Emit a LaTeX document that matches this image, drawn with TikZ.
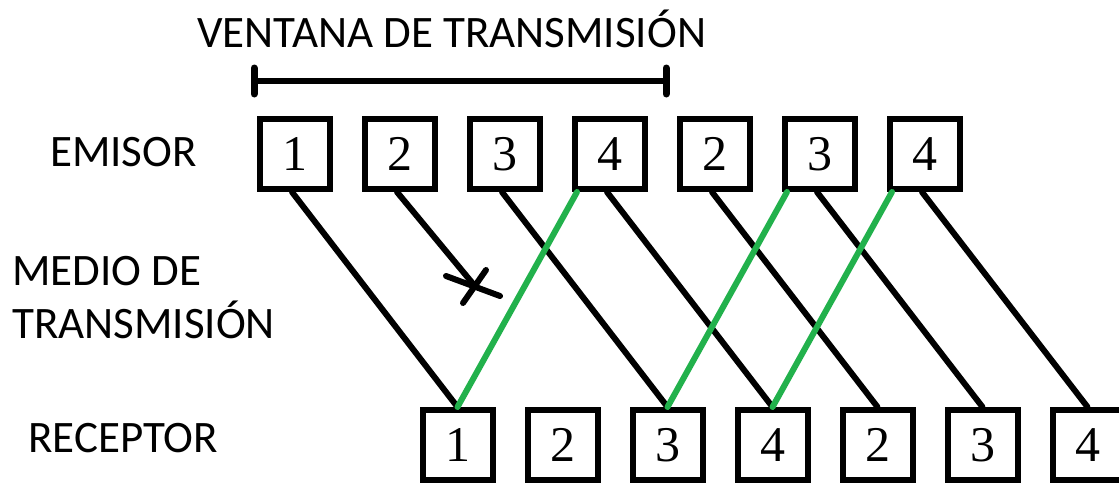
\documentclass[tikz,border=0pt]{standalone}
\usepackage{fontspec}
\setmainfont{Carlito}
\newfontfamily\numfont{Liberation Serif}
\definecolor{pgreen}{RGB}{34,177,76}
\begin{document}
\begin{tikzpicture}[x=1pt,y=-1pt,
  pkt/.style={draw=black, line width=6pt, minimum size=70pt, inner sep=0pt,
    font=\numfont\fontsize{50}{50}\selectfont},
  lbl/.style={anchor=base west, inner sep=0pt, font=\fontsize{45}{54}\selectfont},
  wire/.style={line width=6pt, line cap=round},
  ack/.style={wire, draw=pgreen}]
\clip (0,0) rectangle (1119,482);
\fill[white] (0,0) rectangle (1119,482);
% labels
\node[lbl] (ventana) at (197,47) {VENTANA DE TRANSMISIÓN};
\node[lbl] (emisor) at (50,166) {EMISOR};
\node[lbl] (medio1) at (12,285) {MEDIO DE};
\node[lbl] (medio2) at (12,338) {TRANSMISIÓN};
\node[lbl] (receptor) at (28,452) {RECEPTOR};
% window bar
\coordinate (wl) at (254,81);
\coordinate (wr) at (666,81);
\draw[line width=6pt] (wl) -- (wr);
\draw[line width=7pt, line cap=round] ([yshift=-13pt]wl) -- ([yshift=13pt]wl);
\draw[line width=7pt, line cap=round] ([yshift=-13pt]wr) -- ([yshift=13pt]wr);
% packets
\foreach \i/\n/\x in {1/1/295,2/2/400,3/3/505,4/4/610,5/2/715,6/3/820,7/4/925}
  \node[pkt] (e\i) at (\x,154) {\n};
\foreach \i/\n/\x in {1/1/457.5,2/2/562.5,3/3/667.5,4/4/772.5,5/2/877.5,6/3/982.5,7/4/1087.5}
  \node[pkt] (r\i) at (\x,445) {\n};
% lost packet
\coordinate (lost) at (474,285);
\draw[wire] ([xshift=-3pt]e2.south) -- (lost);
\draw[wire] ([shift={(-28,-9)}]lost) -- ([shift={(26,11)}]lost);
\draw[wire] ([shift={(12,-15)}]lost) -- ([shift={(-11,18)}]lost);
% data
\draw[wire] ([xshift=-3pt]e1.south) -- (r1.north);
\draw[wire] ([xshift=-3pt]e3.south) -- (r3.north);
\draw[wire] ([xshift=-3pt]e4.south) -- (r4.north);
\draw[wire] ([xshift=-3pt]e5.south) -- (r5.north);
\draw[wire] ([xshift=-3pt]e6.south) -- (r6.north);
\draw[wire] ([xshift=-3pt]e7.south) -- (r7.north);
% acks
\draw[ack] (r1.north) -- ([xshift=5pt]e4.south west);
\draw[ack] (r3.north) -- ([xshift=5pt]e6.south west);
\draw[ack] (r4.north) -- ([xshift=5pt]e7.south west);
\end{tikzpicture}
\end{document}
